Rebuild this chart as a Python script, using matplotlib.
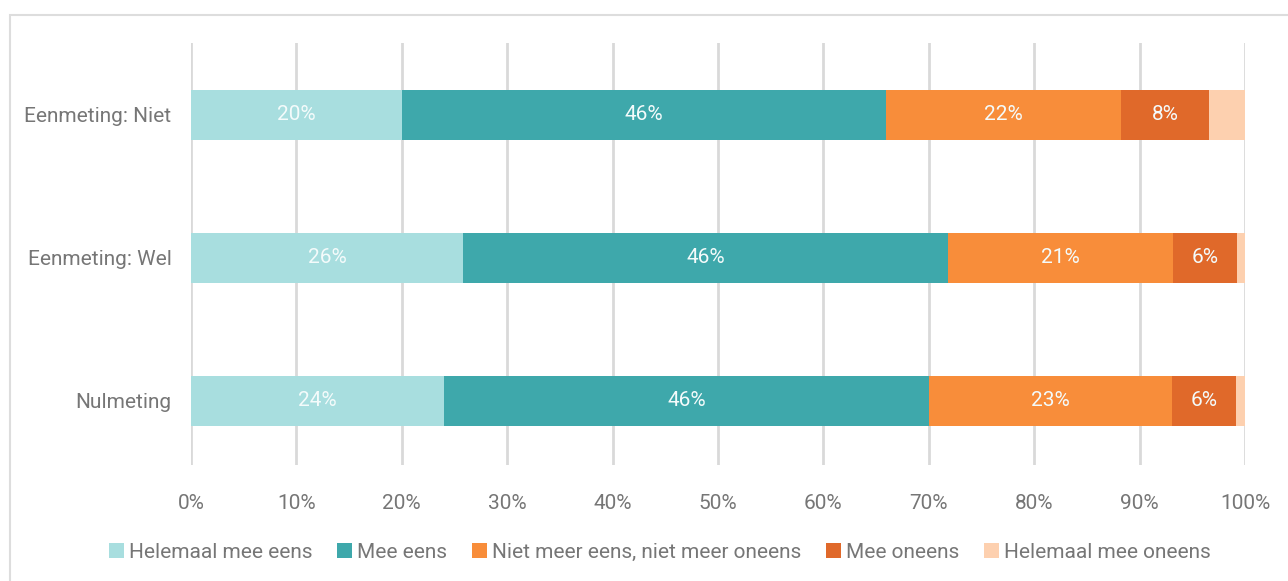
#!/usr/bin/env python3
"""
Stacked horizontal bar chart: agreement per measurement.
"""
import numpy as np
import matplotlib.pyplot as plt
from matplotlib.patches import Rectangle

categories = ["Nulmeting", "Eenmeting: Wel", "Eenmeting: Niet"]
series = ["Helemaal mee eens", "Mee eens", "Niet meer eens, niet meer oneens",
          "Mee oneens", "Helemaal mee oneens"]
# shares in %, per category (same order as categories)
helemaal_eens = [24.0, 25.8, 20.0]
mee_eens = [46.0, 46.0, 45.9]
neutraal = [23.1, 21.4, 22.3]
mee_oneens = [6.0, 6.0, 8.4]
helemaal_oneens = [0.9, 0.8, 3.4]
xticks = [0, 10, 20, 30, 40, 50, 60, 70, 80, 90, 100]

colors = ["#A8DEDF", "#3EA8AB", "#F88D3A", "#E0692A", "#FDD0AF"]
FONT = ["Roboto", "DejaVu Sans"]
GREY = "#767676"
plt.rcParams["font.family"] = FONT
plt.rcParams["font.weight"] = "normal"

fig = plt.figure(figsize=(12.88, 5.81), dpi=100)
W, H = 1288, 581
ax = fig.add_axes([191 / W, 1 - 465 / H, (1245 - 191) / W, (465 - 43) / H])

# outer frame
fig.patches.append(Rectangle((10 / W, -0.1), 1.2, 1 - 15 / H + 0.1,
                             transform=fig.transFigure, fill=False,
                             edgecolor="#DDDDDD", linewidth=1.5))

y = np.arange(len(categories))
left = np.zeros(len(categories))
for name, vals, c in zip(series,
                         [helemaal_eens, mee_eens, neutraal, mee_oneens, helemaal_oneens],
                         colors):
    vals = np.array(vals)
    ax.barh(y, vals, left=left, height=0.35, color=c, label=name, zorder=3)
    for yi, l, v in zip(y, left, vals):
        if v >= 5:
            ax.text(l + v / 2, yi, f"{round(v):.0f}%", ha="center", va="center",
                    color="#F4FBFB", fontsize=15, zorder=4)
    left += vals

ax.set_xlim(0, 100)
ax.set_ylim(-0.448, 2.503)
ax.set_xticks(xticks)
ax.set_xticklabels([f"{t}%" for t in xticks])
ax.set_yticks(y)
ax.set_yticklabels(categories)
ax.tick_params(axis="both", length=0, labelsize=15, colors=GREY)
ax.tick_params(axis="y", pad=14)
ax.tick_params(axis="x", pad=21)
ax.grid(axis="x", color="#D9D9D9", linewidth=2, zorder=0)
for s in ax.spines.values():
    s.set_visible(False)

fig.legend(loc="center", bbox_to_anchor=(660 / W, 1 - 552 / H), ncol=5,
           frameon=False, fontsize=15, handlelength=0.7, handleheight=0.7,
           handletextpad=0.25, columnspacing=1.2, labelcolor=GREY)

plt.savefig("out.png", dpi=100)
